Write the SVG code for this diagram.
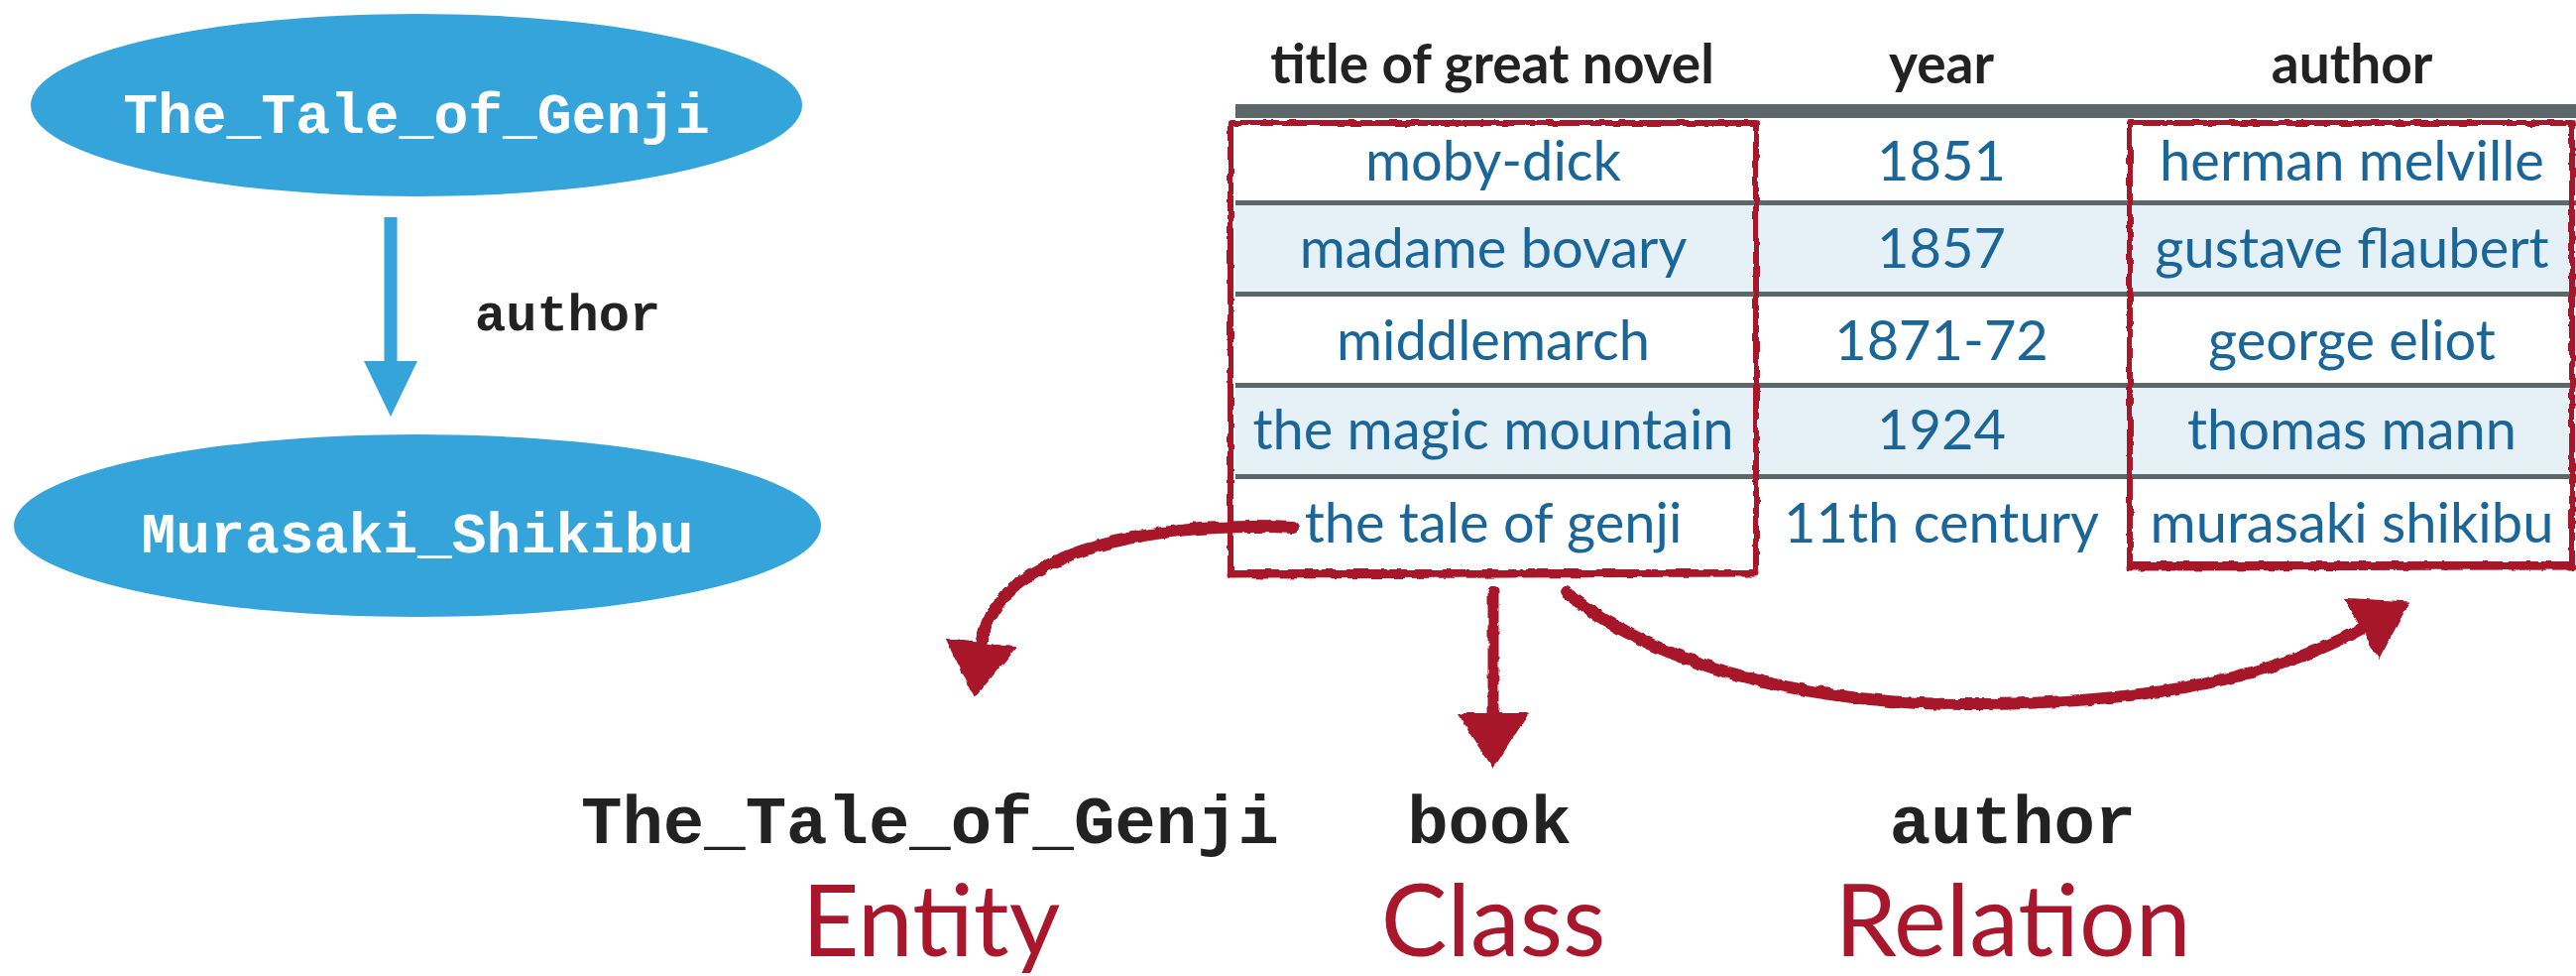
<svg xmlns="http://www.w3.org/2000/svg" width="2598" height="984" viewBox="0 0 2598 984">
<style>
.node{fill:#35a4da}
.ntxt{font-family:"Courier New","Liberation Mono",monospace;font-weight:bold;font-size:58px;fill:#ffffff;text-anchor:middle}
.elbl{font-family:"Courier New","Liberation Mono",monospace;font-weight:bold;font-size:52px;fill:#222222}
.hdr{font-family:Lato,"Open Sans",sans-serif;font-weight:bold;font-size:55px;fill:#222222;text-anchor:middle}
.cell{font-family:Lato,"Open Sans",sans-serif;font-size:56px;fill:#1b6699;text-anchor:middle}
.bar{fill:#5d6668}
.shade{fill:#e5f0f7}
.red{fill:none;stroke:#a8172b;stroke-linecap:round;stroke-linejoin:round}
.code{font-family:"Courier New","Liberation Mono",monospace;font-weight:bold;font-size:69px;fill:#222222;text-anchor:middle}
.kind{font-family:Lato,"Open Sans",sans-serif;font-size:100px;fill:#a8172b;text-anchor:middle}
</style>
<defs>
<filter id="rough" filterUnits="userSpaceOnUse" x="0" y="0" width="2598" height="984">
<feTurbulence type="fractalNoise" baseFrequency="0.09" numOctaves="2" seed="4" result="n"/>
<feDisplacementMap in="SourceGraphic" in2="n" scale="5" xChannelSelector="R" yChannelSelector="G"/>
</filter>
<marker id="redhead" viewBox="0 0 56 72" refX="4" refY="36" markerWidth="56" markerHeight="72" markerUnits="userSpaceOnUse" orient="auto">
<path d="M0,0 L56,36 L0,72 Z" fill="#a8172b"/>
</marker>
<marker id="bluehead" viewBox="0 0 56 54" refX="0" refY="27" markerWidth="56" markerHeight="54" markerUnits="userSpaceOnUse" orient="auto">
<path d="M0,0 L56,27 L0,54 Z" fill="#35a4da"/>
</marker>
</defs>

<g id="node-genji">
<ellipse class="node" cx="420" cy="106" rx="389" ry="92"/>
<text class="ntxt" x="420" y="134">The_Tale_of_Genji</text>
</g>
<g id="node-murasaki">
<ellipse class="node" cx="421" cy="530" rx="407" ry="92"/>
<text class="ntxt" x="421" y="557">Murasaki_Shikibu</text>
</g>
<g id="graph-edges">
<line x1="394" y1="219" x2="394" y2="364" stroke="#35a4da" stroke-width="13" marker-end="url(#bluehead)"/>
<text class="elbl" x="479" y="333">author</text>
</g>

<g id="table">
<rect class="bar" x="1246" y="105" width="1352" height="14"/>
<rect class="shade" x="1246" y="207" width="1352" height="87"/>
<rect class="shade" x="1246" y="391" width="1352" height="87"/>
<rect class="bar" x="1246" y="202" width="1352" height="5"/>
<rect class="bar" x="1246" y="294" width="1352" height="5"/>
<rect class="bar" x="1246" y="386" width="1352" height="5"/>
<rect class="bar" x="1246" y="478" width="1352" height="5"/>
<text class="hdr" x="1505" y="84">title of great novel</text>
<text class="hdr" x="1958" y="84">year</text>
<text class="hdr" x="2372" y="84">author</text>
<text class="cell" x="1506" y="182">moby-dick</text>
<text class="cell" x="1958" y="182">1851</text>
<text class="cell" x="2372" y="182">herman melville</text>
<text class="cell" x="1506" y="270">madame bovary</text>
<text class="cell" x="1958" y="270">1857</text>
<text class="cell" x="2372" y="270">gustave flaubert</text>
<text class="cell" x="1506" y="363">middlemarch</text>
<text class="cell" x="1958" y="363">1871-72</text>
<text class="cell" x="2372" y="363">george eliot</text>
<text class="cell" x="1506" y="453">the magic mountain</text>
<text class="cell" x="1958" y="453">1924</text>
<text class="cell" x="2372" y="453">thomas mann</text>
<text class="cell" x="1506" y="547">the tale of genji</text>
<text class="cell" x="1958" y="547">11th century</text>
<text class="cell" x="2372" y="547">murasaki shikibu</text>
</g>

<g id="highlight-boxes" filter="url(#rough)">
<path class="red" stroke-width="6" d="M1241,124 L1771,124 L1771,577 L1241,577 Z"/>
<path class="red" stroke-width="7" d="M1241,580 L1771,578"/>
<path class="red" stroke-width="6" d="M2148,124 L2594,124 L2594,569 L2148,569 Z"/>
<path class="red" stroke-width="7" d="M2148,572 L2594,571"/>
</g>

<g id="connectors" filter="url(#rough)">
<path class="red" stroke-width="12" d="M1304,532 C1150,525 1000,560 989,652" marker-end="url(#redhead)"/>
<path class="red" stroke-width="11" d="M1506,597 L1506,723" marker-end="url(#redhead)"/>
<path class="red" stroke-width="12" d="M1579,597 C1680,680 1850,712 2000,710 C2180,708 2300,680 2385,632" marker-end="url(#redhead)"/>
</g>

<g id="label-entity">
<text class="code" x="938" y="850">The_Tale_of_Genji</text>
<text class="kind" x="939" y="964">Entity</text>
</g>
<g id="label-class">
<text class="code" x="1502" y="850">book</text>
<text class="kind" x="1506" y="964">Class</text>
</g>
<g id="label-relation">
<text class="code" x="2030" y="850">author</text>
<text class="kind" x="2030" y="964">Relation</text>
</g>
</svg>
